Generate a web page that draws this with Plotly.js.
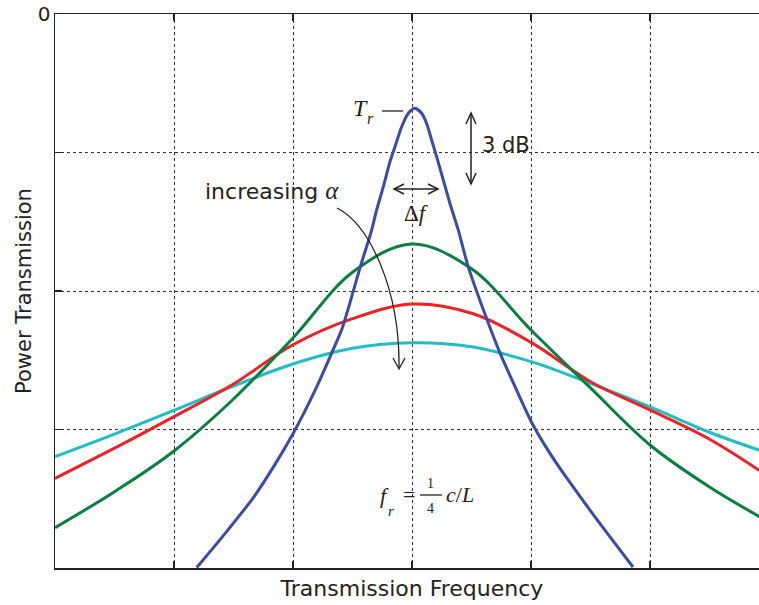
<!DOCTYPE html>
<html>
<head>
<meta charset="utf-8">
<script src="https://cdn.plot.ly/plotly-3.0.1.min.js"></script>
<style>html,body{margin:0;padding:0;overflow:hidden;background:#fff;}</style>
</head>
<body>
<div id="chart"></div>
<script>
// Frequency offset (grid units) and power transmission (grid units, 0 = top)
var blueX = [-1.809,-1.57,-1.33,-1.15,-1.0,-0.908,-0.80,-0.675,-0.585,-0.434,-0.339,-0.297,-0.241,-0.185,-0.143,-0.087,-0.031,0.025,0.081,0.123,0.165,0.207,0.263,0.319,0.389,0.472,0.623,0.739,0.86,1.0,1.15,1.30,1.58,1.857];
var blueY = [-3.997,-3.75,-3.488,-3.25,-3.03,-2.88,-2.69,-2.448,-2.265,-1.824,-1.560,-1.415,-1.247,-1.066,-0.958,-0.814,-0.717,-0.681,-0.717,-0.791,-0.910,-1.030,-1.199,-1.368,-1.560,-1.824,-2.190,-2.447,-2.68,-2.94,-3.16,-3.35,-3.68,-3.993];

var gridX  = [-3,-2.5,-2,-1.5,-1,-0.5,0,0.5,1,1.5,2,2.5,2.92];
var greenY = [-3.709,-3.449,-3.155,-2.780,-2.339,-1.865,-1.661,-1.840,-2.282,-2.700,-3.112,-3.415,-3.629];
var redY   = [-3.353,-3.135,-2.907,-2.671,-2.388,-2.200,-2.094,-2.161,-2.371,-2.655,-2.859,-3.070,-3.296];
var cyanY  = [-3.196,-3.033,-2.862,-2.686,-2.527,-2.414,-2.373,-2.403,-2.510,-2.667,-2.837,-3.020,-3.150];

var xGrid = [-2,-1,0,1,2];
var yGrid = [-3,-2,-1];
var yTicks = [0];
var yTickText = ['0'];

var seriesNames = ['T_r (lossless)','α1','α2','α3'];
var colors = ['#3a4ca4','#0a7f40','#ec2229','#20bec4'];

// pixel -> data helpers for decorations
function X(px){ return (px-412)/119; }
function Y(py){ return -(py-14)/138.5; }
function P(px,py){ return X(px)+','+Y(py); }

var sans = 'DejaVu Sans, Verdana, sans-serif';
var serif = 'Liberation Serif, DejaVu Serif, serif';
var ink = '#222222';

function tr(x,y,c,name,sm){
  return {x:x,y:y,type:'scatter',mode:'lines',name:name,
    line:{color:c,width:3,shape:'spline',smoothing:sm},hoverinfo:'skip'};
}
var data = [
  tr(gridX,cyanY,colors[3],seriesNames[3],1),
  tr(gridX,redY,colors[2],seriesNames[2],1),
  tr(gridX,greenY,colors[1],seriesNames[1],1),
  tr(blueX,blueY,colors[0],seriesNames[0],0.7)
];

var lineStyle = {color:ink,width:1.5};
var shapes = [
  {type:'path',xref:'x',yref:'y',path:'M'+P(382,111)+'L'+P(403,111),line:{color:ink,width:1.3}},
  // vertical 3 dB arrow
  {type:'path',xref:'x',yref:'y',path:'M'+P(471,113)+'L'+P(471,184),line:lineStyle},
  {type:'path',xref:'x',yref:'y',path:'M'+P(466,124)+'L'+P(471,113)+'L'+P(476,124),line:lineStyle},
  {type:'path',xref:'x',yref:'y',path:'M'+P(466,173)+'L'+P(471,184)+'L'+P(476,173),line:lineStyle},
  // horizontal delta f arrow
  {type:'path',xref:'x',yref:'y',path:'M'+P(394,189)+'L'+P(438,189),line:lineStyle},
  {type:'path',xref:'x',yref:'y',path:'M'+P(404,184)+'L'+P(394,189)+'L'+P(404,194),line:lineStyle},
  {type:'path',xref:'x',yref:'y',path:'M'+P(428,184)+'L'+P(438,189)+'L'+P(428,194),line:lineStyle},
  // curved increasing alpha arrow
  {type:'path',xref:'x',yref:'y',path:'M'+P(337,208)+'C'+P(370,225)+' '+P(400,290)+' '+P(399,368),line:{color:ink,width:1.3}},
  {type:'path',xref:'x',yref:'y',path:'M'+P(393,358)+'L'+P(399,369)+'L'+P(405,358),line:{color:ink,width:1.3}},
  // fraction bar
  {type:'path',xref:'x',yref:'y',path:'M'+P(420,495)+'L'+P(442,495),line:{color:ink,width:1.3}}
];

function ann(px,py,text,fam,size,anchor){
  return {x:X(px),y:Y(py),xref:'x',yref:'y',text:text,showarrow:false,xanchor:anchor||'center',
    font:{family:fam,size:size,color:ink}};
}
var annotations = [
  ann(360,108,'<i>T</i>',serif,24),
  ann(370,118,'<i>r</i>',serif,16),
  ann(506,145,'3 dB',sans,21),
  ann(416,213,'Δ<i>f</i>',serif,23),
  ann(203,190,'increasing <span style="font-family:Liberation Serif;font-style:italic;font-size:25px">α</span>',sans,22,'left'),
  ann(384,495,'<i>f</i>',serif,22),
  ann(391,511,'<i>r</i>',serif,15),
  ann(409,494,'=',serif,22),
  ann(430,483,'1',serif,14),
  ann(430,508,'4',serif,14),
  ann(444,494,'<i>c</i>/<i>L</i>',serif,22,'left')
];

var gridStyle = {gridcolor:'#333333',griddash:'dot',gridwidth:1};

var layout = {
  width:771, height:605,
  margin:{l:55,r:2,t:14,b:37},
  paper_bgcolor:'#ffffff', plot_bgcolor:'#ffffff',
  showlegend:false,
  font:{family:sans,color:ink},
  xaxis:Object.assign({range:[-3,3],tickvals:xGrid,showticklabels:false,ticks:'inside',ticklen:7,tickcolor:ink,tickwidth:1.2,
    showgrid:true,zeroline:false,
    showline:true,linecolor:ink,linewidth:1.5,mirror:'ticks',fixedrange:true,
    title:{text:'Transmission Frequency',font:{family:sans,size:22,color:ink},standoff:12}},gridStyle),
  yaxis:{range:[-4,0],tickvals:yTicks,ticktext:yTickText,showticklabels:true,ticks:'inside',ticklen:7,tickcolor:ink,tickwidth:1.2,
    tickfont:{family:sans,size:20,color:ink},ticklabelstandoff:-1,
    showgrid:false,zeroline:false,
    minor:Object.assign({tickmode:'array',tickvals:yGrid,ticks:'inside',ticklen:7,tickcolor:ink,tickwidth:1.2,showgrid:true},gridStyle),
    showline:true,linecolor:ink,linewidth:1.5,mirror:'ticks',fixedrange:true,
    title:{text:'Power Transmission',font:{family:sans,size:21,color:ink},standoff:0}},
  shapes:shapes,
  annotations:annotations
};

Plotly.newPlot('chart',data,layout,{displayModeBar:false,staticPlot:true});
</script>
</body>
</html>
